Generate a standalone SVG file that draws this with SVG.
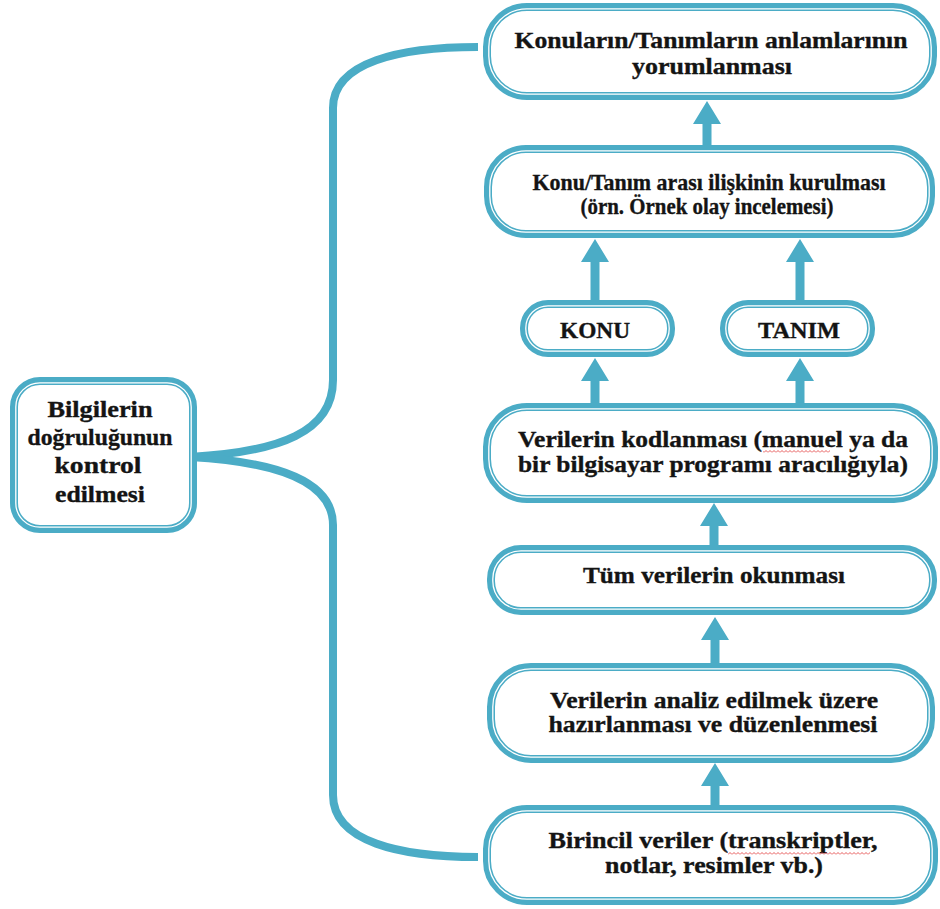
<svg xmlns="http://www.w3.org/2000/svg" width="940" height="909" viewBox="0 0 940 909">
  <style>
    .frame { fill: #ffffff; stroke: #4bacc6; stroke-width: 8; }
    .gap { fill: none; stroke: #ffffff; stroke-width: 1.3; }
    .brace { fill: none; stroke: #4bacc6; stroke-width: 8; stroke-linecap: butt; }
    .arrow { fill: #4bacc6; }
    .label { font-family: "Liberation Serif", "Times New Roman", serif; font-weight: bold; font-size: 24px; fill: #141414; stroke: #141414; stroke-width: 0.35; text-anchor: middle; }
  </style>
  <defs>
    <pattern id="wave" width="4" height="3" patternUnits="userSpaceOnUse">
      <path d="M0 2.5 L2 0.5 L4 2.5" fill="none" stroke="#e03030" stroke-width="0.8"/>
    </pattern>
  </defs>

  <rect width="940" height="909" fill="#ffffff"/>

  <!-- connectors: brace from the check box and the upward flow arrows -->
  <g id="connectors">
    <path class="brace" d="M 190 457 C 280 452, 333 432, 333 380 L 333 108 C 333 62, 400 47, 478 47"/>
    <path class="brace" d="M 190 457 C 280 462, 333 482, 333 525 L 333 795 C 333 842, 400 857, 478 857"/>
    <path class="arrow" d="M707 101 L721 124 L711.5 124 L711.5 147 L702.5 147 L702.5 124 L693 124 Z"/>
    <path class="arrow" d="M595 239 L609 262 L599.5 262 L599.5 302 L590.5 302 L590.5 262 L581 262 Z"/>
    <path class="arrow" d="M800 239 L814 262 L804.5 262 L804.5 302 L795.5 302 L795.5 262 L786 262 Z"/>
    <path class="arrow" d="M595 358 L609 381 L599.5 381 L599.5 405 L590.5 405 L590.5 381 L581 381 Z"/>
    <path class="arrow" d="M800 358 L814 381 L804.5 381 L804.5 405 L795.5 405 L795.5 381 L786 381 Z"/>
    <path class="arrow" d="M714 503 L728 526 L718.5 526 L718.5 547 L709.5 547 L709.5 526 L700 526 Z"/>
    <path class="arrow" d="M715 617 L729 640 L719.5 640 L719.5 665 L710.5 665 L710.5 640 L701 640 Z"/>
    <path class="arrow" d="M715 763 L729 786 L719.5 786 L719.5 807 L710.5 807 L710.5 786 L701 786 Z"/>
  </g>

  <g id="dogruluk-kontrolu">
    <rect class="frame" x="14" y="381" width="179" height="148" rx="26"/>
    <rect class="gap" x="15.8" y="382.8" width="175.4" height="144.4" rx="24.2"/>
    <text class="label" x="100" y="417" textLength="105" lengthAdjust="spacingAndGlyphs">Bilgilerin</text>
    <text class="label" x="100" y="445" textLength="145" lengthAdjust="spacingAndGlyphs">doğruluğunun</text>
    <text class="label" x="98" y="473" textLength="87" lengthAdjust="spacingAndGlyphs">kontrol</text>
    <text class="label" x="100" y="502" textLength="90" lengthAdjust="spacingAndGlyphs">edilmesi</text>
  </g>

  <g id="yorumlama">
    <rect class="frame" x="487" y="7" width="446" height="89" rx="40"/>
    <rect class="gap" x="488.8" y="8.8" width="442.4" height="85.4" rx="38.2"/>
    <text class="label" x="711" y="48" textLength="393" lengthAdjust="spacingAndGlyphs">Konuların/Tanımların anlamlarının</text>
    <text class="label" x="712" y="74" textLength="160" lengthAdjust="spacingAndGlyphs">yorumlanması</text>
  </g>

  <g id="iliski-kurma">
    <rect class="frame" x="488" y="149" width="443" height="85" rx="38"/>
    <rect class="gap" x="489.8" y="150.8" width="439.4" height="81.4" rx="36.2"/>
    <text class="label" x="709" y="190" textLength="353" lengthAdjust="spacingAndGlyphs">Konu/Tanım arası ilişkinin kurulması</text>
    <text class="label" x="707" y="214" textLength="253" lengthAdjust="spacingAndGlyphs">(örn. Örnek olay incelemesi)</text>
  </g>

  <g id="konu">
    <rect class="frame" x="524" y="304" width="147" height="49" rx="24"/>
    <rect class="gap" x="525.8" y="305.8" width="143.4" height="45.4" rx="22.2"/>
    <text class="label" x="595" y="338" textLength="70" lengthAdjust="spacingAndGlyphs">KONU</text>
  </g>

  <g id="tanim">
    <rect class="frame" x="724" y="304" width="147" height="49" rx="24"/>
    <rect class="gap" x="725.8" y="305.8" width="143.4" height="45.4" rx="22.2"/>
    <text class="label" x="799" y="338" textLength="82" lengthAdjust="spacingAndGlyphs">TANIM</text>
  </g>

  <g id="kodlama">
    <rect class="frame" x="487" y="407" width="447" height="92" rx="40"/>
    <rect class="gap" x="488.8" y="408.8" width="443.4" height="88.4" rx="38.2"/>
    <text class="label" x="713" y="447" textLength="390" lengthAdjust="spacingAndGlyphs">Verilerin kodlanması (manuel ya da</text>
    <text class="label" x="713" y="472" textLength="390" lengthAdjust="spacingAndGlyphs">bir bilgisayar programı aracılığıyla)</text>
    <rect x="763" y="450" width="67" height="3" fill="url(#wave)"/>
  </g>

  <g id="okuma">
    <rect class="frame" x="491" y="549" width="442" height="62" rx="30"/>
    <rect class="gap" x="492.8" y="550.8" width="438.4" height="58.4" rx="28.2"/>
    <text class="label" x="714" y="583" textLength="262" lengthAdjust="spacingAndGlyphs">Tüm verilerin okunması</text>
  </g>

  <g id="hazirlama">
    <rect class="frame" x="491" y="667" width="440" height="92" rx="40"/>
    <rect class="gap" x="492.8" y="668.8" width="436.4" height="88.4" rx="38.2"/>
    <text class="label" x="714" y="708" textLength="328" lengthAdjust="spacingAndGlyphs">Verilerin analiz edilmek üzere</text>
    <text class="label" x="713" y="732" textLength="329" lengthAdjust="spacingAndGlyphs">hazırlanması ve düzenlenmesi</text>
  </g>

  <g id="birincil-veriler">
    <rect class="frame" x="487" y="809" width="447" height="92" rx="40"/>
    <rect class="gap" x="488.8" y="810.8" width="443.4" height="88.4" rx="38.2"/>
    <text class="label" x="713" y="848" textLength="329" lengthAdjust="spacingAndGlyphs">Birincil veriler (transkriptler,</text>
    <text class="label" x="714" y="873" textLength="218" lengthAdjust="spacingAndGlyphs">notlar, resimler vb.)</text>
    <rect x="728" y="852" width="142" height="3" fill="url(#wave)"/>
  </g>
</svg>
